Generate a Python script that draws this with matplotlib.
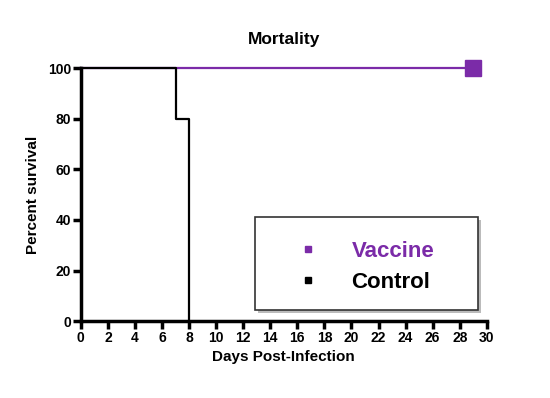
import matplotlib
matplotlib.use("Agg")
import matplotlib.pyplot as plt
from matplotlib.lines import Line2D
from matplotlib.patches import Rectangle

plt.rcParams['font.family'] = ['Liberation Sans', 'DejaVu Sans']
plt.rcParams['font.weight'] = 'bold'

# survival data (days, percent)
control_days = [0, 7, 7, 8, 8]
control_surv = [100, 100, 80, 80, 0]
vaccine_days = [0, 29]
vaccine_surv = [100, 100]
xticks = list(range(0, 31, 2))
yticks = [0, 20, 40, 60, 80, 100]
labels = ['Vaccine', 'Control']

purple = '#7B2BA8'

fig = plt.figure(figsize=(5.5, 3.98), dpi=100)
ax = fig.add_axes([0.147, 0.193, 0.738, 0.636])

ax.plot(vaccine_days, vaccine_surv, color=purple, lw=1.6, clip_on=False, zorder=2)
ax.plot(vaccine_days[-1:], vaccine_surv[-1:], 's', color=purple, ms=11, clip_on=False, zorder=4)
ax.plot(control_days, control_surv, color='black', lw=1.6, clip_on=False, zorder=3)

ax.set_xlim(0, 30)
ax.set_ylim(0, 100)
ax.set_xticks(xticks)
ax.set_yticks(yticks)
for s in ['top', 'right']:
    ax.spines[s].set_visible(False)
for s in ['left', 'bottom']:
    ax.spines[s].set_linewidth(2.5)
ax.tick_params(width=2.5, length=6, labelsize=10, pad=1)
for lab in ax.get_xticklabels() + ax.get_yticklabels():
    lab.set_fontweight('bold')

ax.set_xlabel('Days Post-Infection', fontsize=11, fontweight='bold', labelpad=4)
ax.set_ylabel('Percent survival', fontsize=11, fontweight='bold', labelpad=6)
ax.set_title('Mortality', fontsize=12.5, fontweight='bold', pad=17)

# legend box with shadow
W, H = 550.0, 398.0
x0, y0, x1, y1 = 255, 217, 478, 310
fig.patches.append(Rectangle(((x0 + 3) / W, 1 - (y1 + 3) / H), (x1 - x0) / W, (y1 - y0) / H,
                             transform=fig.transFigure, facecolor='#bbbbbb', edgecolor='none', zorder=5))
fig.patches.append(Rectangle((x0 / W, 1 - y1 / H), (x1 - x0) / W, (y1 - y0) / H,
                             transform=fig.transFigure, facecolor='white', edgecolor='#333333',
                             lw=1.2, zorder=6))

handles = [Line2D([], [], ls='none', marker='s', ms=5, color=purple),
           Line2D([], [], ls='none', marker='s', ms=5, color='black')]
leg = fig.legend(handles, labels, loc='upper left',
                 bbox_to_anchor=(297 / W, 1 - 241 / H), fontsize=16,
                 handletextpad=1.45, borderpad=0, labelspacing=0.45,
                 handlelength=1.0, borderaxespad=0, frameon=False)
leg.set_zorder(7)
leg.get_texts()[0].set_color(purple)
for t in leg.get_texts():
    t.set_fontweight('bold')

fig.savefig('out.png', dpi=100)
